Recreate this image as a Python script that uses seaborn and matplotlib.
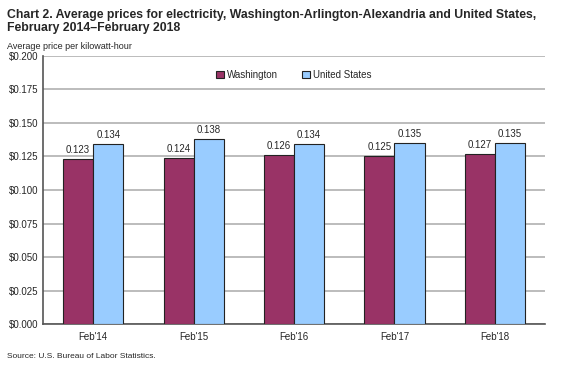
import pandas as pd
import matplotlib
matplotlib.use('Agg')
import matplotlib.pyplot as plt
import seaborn as sns

# data
periods = ["Feb'14", "Feb'15", "Feb'16", "Feb'17", "Feb'18"]
washington = [0.123, 0.124, 0.126, 0.125, 0.127]
united_states = [0.134, 0.138, 0.134, 0.135, 0.135]
yticks = [0.000, 0.025, 0.050, 0.075, 0.100, 0.125, 0.150, 0.175, 0.200]

df = pd.DataFrame({
    'Period': periods * 2,
    'Price': washington + united_states,
    'Area': ['Washington'] * len(periods) + ['United States'] * len(periods),
})

sns.set_style('white')
plt.rcParams['font.family'] = ['Liberation Sans', 'DejaVu Sans']

fig = plt.figure(figsize=(5.66, 3.65), dpi=100)
ax = fig.add_axes([0.076, 0.112, 0.887, 0.735])

sns.barplot(data=df, x='Period', y='Price', hue='Area',
            palette=['#993366', '#99CCFF'], saturation=1, width=0.6, gap=0,
            edgecolor='#222222', linewidth=0.8, ax=ax, zorder=3)

for cont in ax.containers:
    ax.bar_label(cont, fmt='%.3f', padding=3, fontsize=7)

ax.set_ylim(0, 0.2)
ax.set_yticks(yticks)
ax.set_yticklabels(['$%.3f' % v for v in yticks], fontsize=7)
ax.tick_params(axis='x', labelsize=7, length=0, pad=6)
ax.tick_params(axis='y', length=0, pad=3)
ax.yaxis.grid(True, color='#b0b0b0', linewidth=1.2, zorder=0)
ax.set_axisbelow(True)
ax.set_xlabel('')
ax.set_ylabel('')
for side in ['top', 'right']:
    ax.spines[side].set_visible(False)
ax.spines['left'].set_color('#555555')
ax.spines['bottom'].set_color('#555555')
ax.spines['left'].set_linewidth(1.2)
ax.spines['bottom'].set_linewidth(1.2)

leg = ax.legend(loc='upper center', bbox_to_anchor=(0.5, 0.98), ncol=2,
                frameon=False, fontsize=7, handlelength=0.8, handleheight=0.8,
                columnspacing=2.5, handletextpad=0.3)

fig.text(0.012, 0.975, 'Chart 2. Average prices for electricity, Washington-Arlington-Alexandria and United States,\nFebruary 2014\u2013February 2018',
         fontsize=8.8, fontweight='bold', va='top', ha='left', linespacing=1.15)
fig.text(0.012, 0.885, 'Average price per kilowatt-hour', fontsize=6.5, va='top', ha='left')
fig.text(0.012, 0.015, 'Source: U.S. Bureau of Labor Statistics.', fontsize=6, va='bottom', ha='left')

fig.savefig('out.png', dpi=100)
